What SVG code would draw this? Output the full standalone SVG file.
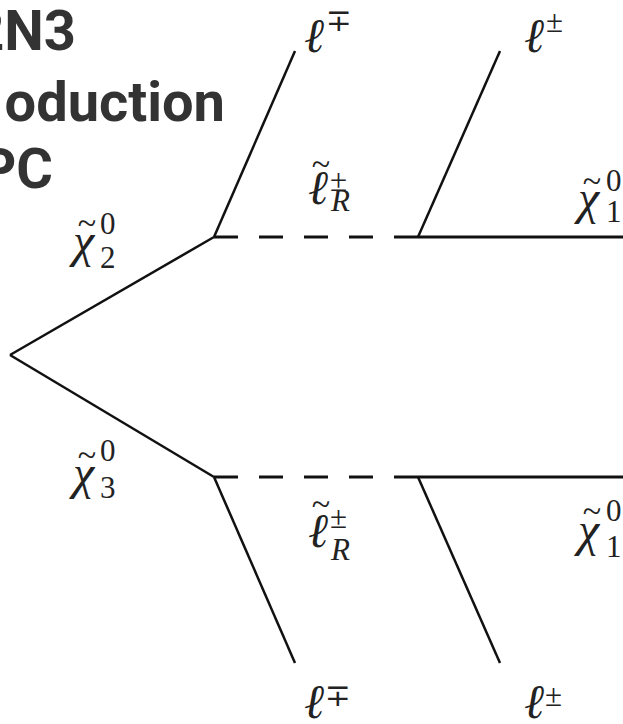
<svg xmlns="http://www.w3.org/2000/svg" width="623" height="724" viewBox="0 0 623 724">
<style>
.title{font-family:Roboto,"Liberation Sans",sans-serif;font-weight:bold;font-size:56px;fill:#333;text-anchor:end}
.m{font-family:"Liberation Serif","DejaVu Serif",serif;font-style:italic;font-size:48px;fill:#222}
.s{font-family:"Liberation Serif","DejaVu Serif",serif;font-size:31px;fill:#222}
.si{font-family:"Liberation Serif","DejaVu Serif",serif;font-style:italic;font-size:31px;fill:#222}
.t{font-family:"Liberation Serif","DejaVu Serif",serif;font-size:34px;fill:#222;text-anchor:middle}
.ln{stroke:#111;stroke-width:2.5;fill:none;stroke-linecap:butt}
.dash{stroke:#111;stroke-width:3;fill:none;stroke-dasharray:24 21}
</style>
<rect width="623" height="724" fill="#fff"/>
<g id="title">
<text class="title" x="76" y="50">2N3</text>
<text class="title" x="225" y="121">oduction</text>
<text class="title" x="53" y="188">PC</text>
</g>
<g id="connectors">
<line class="ln" x1="10" y1="355" x2="214" y2="237"/>
<line class="ln" x1="10" y1="355" x2="214" y2="477"/>
<line class="ln" x1="214" y1="237" x2="295" y2="51"/>
<line class="dash" x1="214" y1="237" x2="395" y2="237"/>
<line class="ln" x1="395" y1="237" x2="623" y2="237" style="stroke-width:3"/>
<line class="ln" x1="418" y1="237" x2="500" y2="51"/>
<line class="ln" x1="214" y1="477" x2="295" y2="663"/>
<line class="dash" x1="214" y1="477" x2="395" y2="477"/>
<line class="ln" x1="395" y1="477" x2="623" y2="477" style="stroke-width:3"/>
<line class="ln" x1="418" y1="477" x2="500" y2="663"/>
</g>
<g id="chi2">
<text class="m" x="73" y="257">χ</text><text class="t" x="87" y="234">~</text>
<text class="s" x="100" y="234">0</text><text class="s" x="100" y="268">2</text>
</g>
<g id="chi3">
<text class="m" x="73" y="489">χ</text><text class="t" x="87" y="466">~</text>
<text class="s" x="100" y="461">0</text><text class="s" x="100" y="498">3</text>
</g>
<g id="slepton-top">
<text class="m" x="308" y="204">ℓ</text><text class="t" x="321" y="175">~</text>
<text class="s" x="330" y="191">±</text><text class="si" x="331" y="211">R</text>
</g>
<g id="neutralino1-top">
<text class="m" x="578" y="214">χ</text><text class="t" x="592" y="192">~</text>
<text class="s" x="606" y="191">0</text><text class="s" x="606" y="222">1</text>
</g>
<g id="slepton-bottom">
<text class="m" x="308" y="547">ℓ</text><text class="t" x="321" y="515">~</text>
<text class="s" x="330" y="528">±</text><text class="si" x="331" y="560">R</text>
</g>
<g id="neutralino1-bottom">
<text class="m" x="578" y="546">χ</text><text class="t" x="592" y="522">~</text>
<text class="s" x="606" y="521">0</text><text class="s" x="606" y="557">1</text>
</g>
<g id="lepton-top-1">
<text class="m" x="304" y="52">ℓ</text><text class="s" x="326" y="31">∓</text>
</g>
<g id="lepton-top-2">
<text class="m" x="524" y="52">ℓ</text><text class="s" x="546" y="32">±</text>
</g>
<g id="lepton-bottom-1">
<text class="m" x="304" y="718">ℓ</text><text class="s" x="325" y="706">∓</text>
</g>
<g id="lepton-bottom-2">
<text class="m" x="524" y="718">ℓ</text><text class="s" x="545" y="706">±</text>
</g>
</svg>
